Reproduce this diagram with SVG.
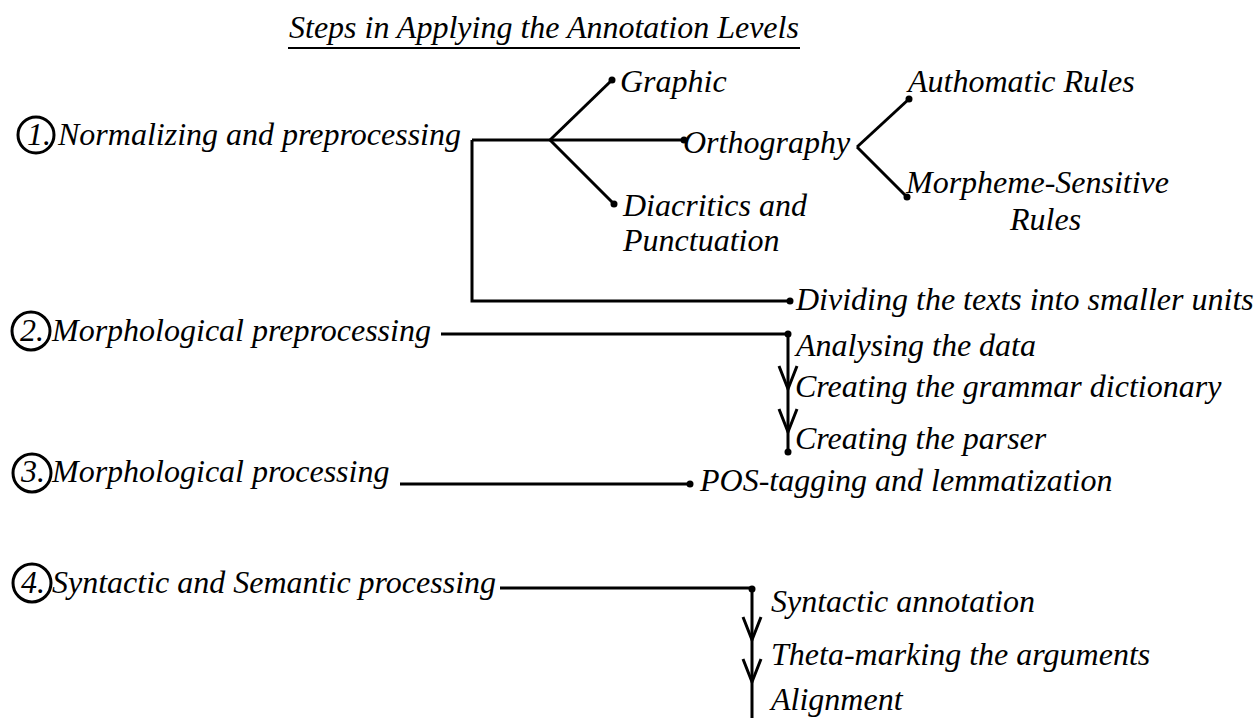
<svg xmlns="http://www.w3.org/2000/svg" width="1256" height="718" viewBox="0 0 1256 718">
<defs>
<style>
text{font-family:"Liberation Serif","Times New Roman",serif;font-style:italic;font-size:32px;fill:#000}
.ln{fill:none;stroke:#000;stroke-width:3;stroke-linejoin:miter}
.cir{fill:none;stroke:#000;stroke-width:3}
.dot{fill:#000}
.ah{fill:none;stroke:#000;stroke-width:3}
</style>
</defs>
<rect width="1256" height="718" fill="#fff"/>
<g id="title">
<text x="289" y="38" font-size="31">Steps in Applying the Annotation Levels</text>
<line x1="288" y1="48" x2="800" y2="48" stroke="#000" stroke-width="2"/>
</g>
<g id="connectors">
<polyline class="ln" points="472,140 472,301 790,301"/>
<line class="ln" x1="472" y1="140" x2="684" y2="140"/>
<line class="ln" x1="550" y1="140" x2="612" y2="80"/>
<line class="ln" x1="550" y1="140" x2="614" y2="204"/>
<line class="ln" x1="909" y1="99" x2="857" y2="147"/>
<line class="ln" x1="857" y1="147" x2="907" y2="197"/>
<polyline class="ln" points="441,334 788,334 788,452"/>
<path class="ah" d="M779,366 L788,389 L797,366 M779,409 L788,432 L797,409"/>
<line class="ln" x1="400" y1="484" x2="690" y2="484"/>
<polyline class="ln" points="500,588 752,588 752,718"/>
<path class="ah" d="M743,617 L752,640 L761,617 M743,659 L752,682 L761,659"/>
<circle class="dot" cx="612" cy="80" r="3.5"/>
<circle class="dot" cx="684" cy="140" r="3.5"/>
<circle class="dot" cx="614" cy="204" r="3.5"/>
<circle class="dot" cx="909" cy="99" r="3.5"/>
<circle class="dot" cx="907" cy="197" r="3.5"/>
<circle class="dot" cx="790" cy="301" r="3.5"/>
<circle class="dot" cx="788" cy="334" r="3.5"/>
<circle class="dot" cx="788" cy="452" r="3.5"/>
<circle class="dot" cx="690" cy="484" r="3.5"/>
<circle class="dot" cx="752" cy="589" r="3.5"/>
</g>
<g id="step1">
<circle class="cir" cx="36" cy="135" r="18"/>
<text x="27" y="145">1.</text>
<text x="58" y="145">Normalizing and preprocessing</text>
</g>
<g id="graphic"><text x="620" y="92">Graphic</text></g>
<g id="orthography"><text x="683" y="153">Orthography</text></g>
<g id="diacritics"><text x="623" y="216">Diacritics and</text><text x="623" y="251">Punctuation</text></g>
<g id="authomatic"><text x="908" y="92">Authomatic Rules</text></g>
<g id="morpheme"><text x="906" y="193">Morpheme-Sensitive</text><text x="1010" y="230">Rules</text></g>
<g id="dividing"><text x="796" y="310">Dividing the texts into smaller units</text></g>
<g id="step2">
<circle class="cir" cx="31" cy="331" r="19"/>
<text x="20" y="341">2.</text>
<text x="52" y="341">Morphological preprocessing</text>
</g>
<g id="analysing"><text x="796" y="356">Analysing the data</text></g>
<g id="grammar"><text x="795" y="397">Creating the grammar dictionary</text></g>
<g id="parser"><text x="795" y="449">Creating the parser</text></g>
<g id="step3">
<circle class="cir" cx="32" cy="473" r="19"/>
<text x="21" y="482">3.</text>
<text x="52" y="482">Morphological processing</text>
</g>
<g id="pos"><text x="700" y="491">POS-tagging and lemmatization</text></g>
<g id="step4">
<circle class="cir" cx="32" cy="583" r="19"/>
<text x="21" y="593">4.</text>
<text x="52" y="593">Syntactic and Semantic processing</text>
</g>
<g id="syntactic"><text x="771" y="612">Syntactic annotation</text></g>
<g id="theta"><text x="771" y="665">Theta-marking the arguments</text></g>
<g id="alignment"><text x="771" y="710">Alignment</text></g>
</svg>
